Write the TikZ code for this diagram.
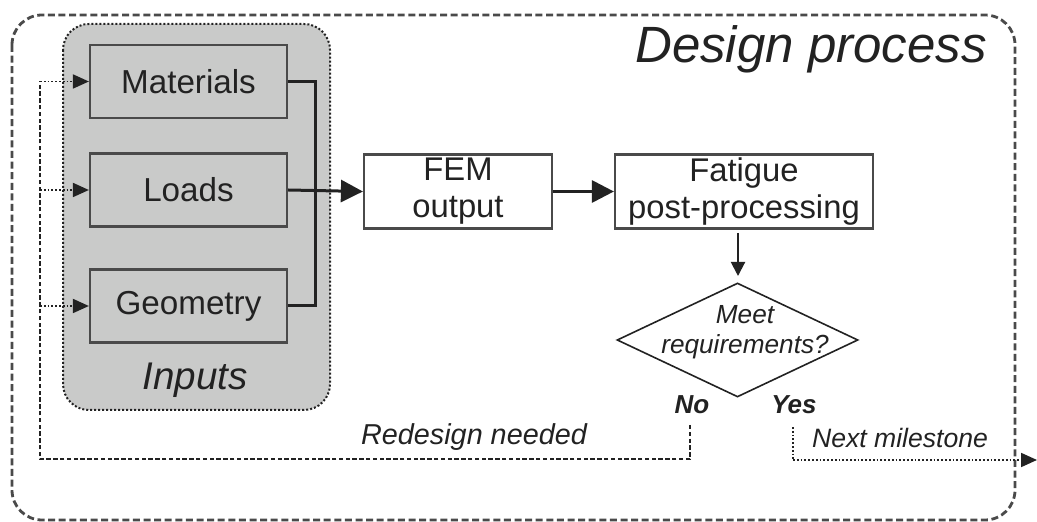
\documentclass[tikz,border=0pt]{standalone}
\usepackage{fontspec}
\setmainfont{Liberation Sans}
\usetikzlibrary{arrows.meta,shapes.geometric}

\definecolor{inputgray}{HTML}{C9CAC9}
\definecolor{linegray}{HTML}{4A4A4A}
\definecolor{inkgray}{HTML}{222222}

\tikzset{
  inbox/.style={draw=linegray, line width=1.1pt, fill=inputgray, minimum width=98.5pt,
    minimum height=36.5pt, inner sep=0pt, text=inkgray, font=\fontsize{16.6pt}{19.5pt}\selectfont},
  stepbox/.style={draw=linegray, line width=1.1pt, fill=white, minimum height=37pt,
    inner sep=0pt, align=center, text=inkgray, font=\fontsize{16.4pt}{18.5pt}\selectfont},
  flow/.style={line width=1.5pt, draw=inkgray, -{Triangle[length=11pt,width=11pt]}},
  feed/.style={line width=0.9pt, draw=inkgray, densely dotted, -{Triangle[length=8pt,width=7pt]}},
  loopline/.style={line width=0.9pt, draw=inkgray, dash pattern=on 2.2pt off 1.2pt},
  note/.style={text=inkgray, font=\fontsize{14.4pt}{16pt}\selectfont\itshape}
}

\begin{document}
\begin{tikzpicture}[x=0.5pt, y=-0.5pt]
  \useasboundingbox (0,0) rectangle (1037,522);
  % outer frame and input group
  \draw[linegray, line width=1.4pt, dash pattern=on 3.5pt off 1.8pt, rounded corners=15pt]
    (12,15) rectangle (1015,520);
  \draw[inkgray, fill=inputgray, line width=1pt, densely dotted, rounded corners=13pt]
    (63,24) rectangle (330,410);
  \node[text=inkgray, font=\fontsize{19.3pt}{22pt}\selectfont\itshape] (inputs) at (195,380) {Inputs};
  \node[text=inkgray, font=\fontsize{25.5pt}{28pt}\selectfont\itshape] (title) at (811,49) {Design process};

  \node[inbox] (mat) at (188.5,81.5) {Materials};
  \node[inbox] (load) at (188.5,190) {Loads};
  \node[inbox] (geo) at (188.5,306) {Geometry};

  \node[stepbox, minimum width=94pt] (fem) at (458,191.5) {FEM\\output};
  \node[stepbox, minimum width=129pt] (fat) at (744,191.5) {Fatigue\\post-processing};

  \node[draw=inkgray, line width=0.8pt, diamond, minimum width=120.5pt, minimum height=57pt,
    inner sep=0pt] (dec) at (737.5,340) {};
  \node[align=center, text=inkgray, font=\fontsize{13.1pt}{15pt}\selectfont\itshape] (dectext)
    at (745,332) {Meet\\requirements?};

  \node[text=inkgray, font=\fontsize{13pt}{15pt}\selectfont\bfseries\itshape] (no) at (692,405) {No};
  \node[text=inkgray, font=\fontsize{13pt}{15pt}\selectfont\bfseries\itshape] (yes) at (794,405) {Yes};
  \node[note] (redo) at (474,437) {Redesign needed};
  \node[note, font=\fontsize{13.3pt}{16pt}\selectfont\itshape] (next) at (900,438) {Next milestone};

  % main flow
  \coordinate (join) at (315,190);
  \draw[line width=1.5pt, inkgray] (mat.east) -| (join) |- (geo.east);
  \draw[flow] (load.east) -- (fem.west);
  \draw[flow] (fem.east) -- (fat.west);
  \coordinate (fatbelow) at (738,233);
  \coordinate (dectop) at (738,276);
  \draw[inkgray, line width=1pt, -{Triangle[length=7pt,width=7pt]}] (fatbelow) -- (dectop);

  % redesign loop
  \coordinate (nostart) at (690,425);
  \coordinate (nocorner) at (690,459);
  \coordinate (loopleft) at (40,459);
  \coordinate (matfeed) at (40,81.5);
  \coordinate (loadfeed) at (40,190);
  \coordinate (geofeed) at (40,306);
  \draw[loopline] (nostart) -- (nocorner) -- (loopleft) -- (matfeed);
  \draw[feed] (matfeed) -- (mat.west);
  \draw[feed] (loadfeed) -- (load.west);
  \draw[feed] (geofeed) -- (geo.west);

  % next milestone
  \coordinate (yesstart) at (793,427);
  \coordinate (yescorner) at (793,460);
  \coordinate (nextend) at (1037,460);
  \draw[line width=0.9pt, inkgray, densely dotted] (yesstart) -- (yescorner);
  \draw[feed] (yescorner) -- (nextend);
\end{tikzpicture}
\end{document}
